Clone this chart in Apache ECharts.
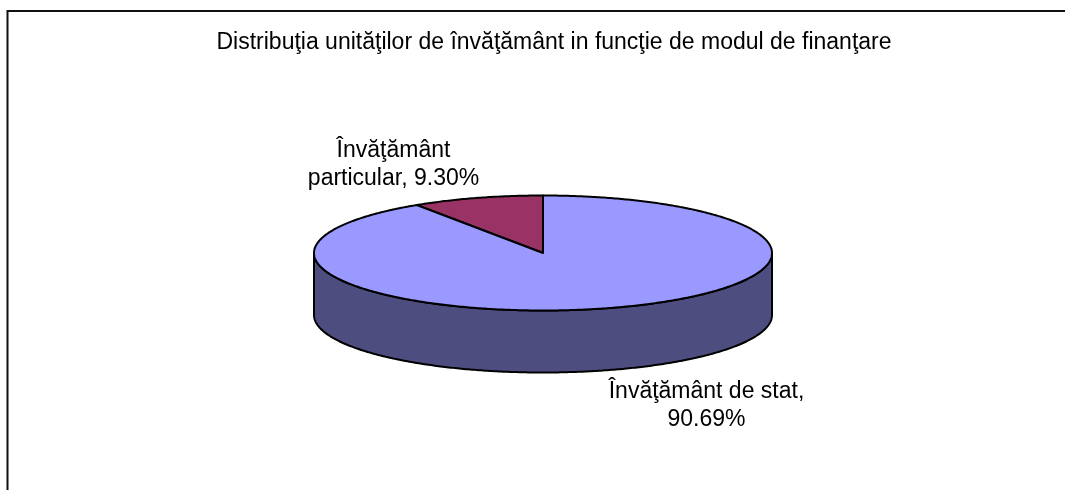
<!DOCTYPE html>
<html>
<head>
<meta charset="utf-8">
<title>Distribuţia unităţilor de învăţământ</title>
<style>
html, body { margin: 0; padding: 0; background: #fff; }
#chart { width: 1065px; height: 490px; }
</style>
<script src="https://cdn.jsdelivr.net/npm/echarts@6/dist/echarts.min.js"></script>
</head>
<body>
<div id="chart"></div>
<script>
const chartTitle = 'Distribuţia unităţilor de învăţământ in funcţie de modul de finanţare';
const categories = ['Învăţământ particular', 'Învăţământ de stat'];
const shares = [9.30, 90.69];
const labelLines = [['Învăţământ', 'particular, 9.30%'], ['Învăţământ de stat,', '90.69%']];
const topColors = ['#993366', '#9999ff'];
const sideColors = ['#4d1a33', '#4d4d80'];

const cx = 543, cy = 253, rx = 229, ry = 57.5, depth = 62;
const font = '"Liberation Sans", Arial, sans-serif';
const total = shares.reduce((a, b) => a + b, 0);

// angle is measured anticlockwise from 12 o'clock
function rimPoint(a, dy) {
    return [cx - rx * Math.sin(a), cy + (dy || 0) - ry * Math.cos(a)];
}

function arcPoints(from, to, dy) {
    let pts = [];
    let steps = Math.max(2, Math.ceil(Math.abs(to - from) / 0.01));
    for (let i = 0; i <= steps; i++) {
        pts.push(rimPoint(from + (to - from) * i / steps, dy));
    }
    return pts;
}

function renderSlice(params, api) {
    let i = params.dataIndex;
    let start = 0;
    for (let k = 0; k < i; k++) {
        start += shares[k] / total * Math.PI * 2;
    }
    let end = start + api.value(1) / total * Math.PI * 2;
    let line = { stroke: '#000', lineWidth: 2, lineJoin: 'round' };
    let children = [];

    // only the front half of the rim is visible
    let sideFrom = Math.max(start, Math.PI / 2);
    let sideTo = Math.min(end, Math.PI * 1.5);
    if (sideTo > sideFrom) {
        let top = arcPoints(sideFrom, sideTo, 0);
        let bottom = arcPoints(sideTo, sideFrom, depth);
        children.push({
            type: 'polygon',
            shape: { points: top.concat(bottom) },
            style: Object.assign({ fill: sideColors[i] }, line)
        });
    }
    children.push({
        type: 'polygon',
        shape: { points: [[cx, cy]].concat(arcPoints(start, end, 0)) },
        style: Object.assign({ fill: topColors[i] }, line)
    });
    return { type: 'group', children: children };
}

function labelText(lines, x, y) {
    return {
        type: 'text',
        silent: true,
        style: {
            x: x,
            y: y,
            text: lines.join('\n'),
            fill: '#000',
            font: '23px ' + font,
            align: 'center',
            verticalAlign: 'top',
            lineHeight: 28
        }
    };
}

const chart = echarts.init(document.getElementById('chart'), null, { renderer: 'canvas' });
chart.setOption({
    animation: false,
    backgroundColor: '#fff',
    title: {
        text: chartTitle,
        left: 549,
        top: 26,
        textAlign: 'center',
        textStyle: { color: '#000', fontFamily: font, fontSize: 23, fontWeight: 'normal' }
    },
    graphic: [
        {
            type: 'polyline',
            silent: true,
            shape: { points: [[7.5, 490], [7.5, 11], [1065, 11]] },
            style: { stroke: '#111', lineWidth: 2, fill: null }
        },
        labelText(labelLines[0], 393.5, 137),
        labelText(labelLines[1], 706.5, 378)
    ],
    series: [{
        type: 'custom',
        coordinateSystem: 'none',
        silent: true,
        clip: false,
        renderItem: renderSlice,
        data: categories.map((name, i) => [name, shares[i]])
    }]
});
</script>
</body>
</html>
